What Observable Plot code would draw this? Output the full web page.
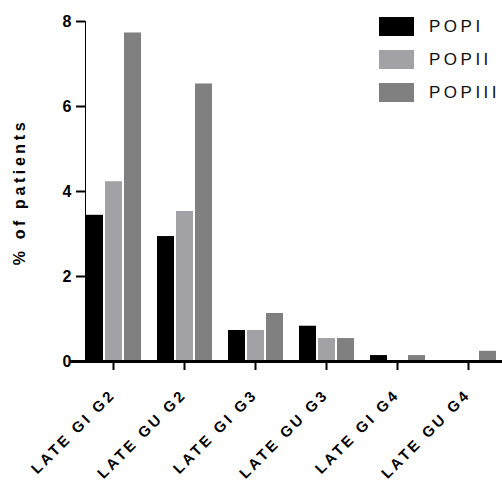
<!DOCTYPE html>
<html>
<head>
<meta charset="utf-8">
<script src="https://cdn.jsdelivr.net/npm/d3@7"></script>
<script src="https://cdn.jsdelivr.net/npm/@observablehq/plot@0.6"></script>
<style>
  html, body { margin: 0; padding: 0; background: #fff; }
  #wrap { position: relative; width: 502px; height: 483px; overflow: hidden; font-family: "Liberation Sans", Arial, sans-serif; }
  #wrap svg { font-family: "Liberation Sans", Arial, sans-serif; overflow: hidden; }
  [aria-label^="y-axis"] text { font-size: 16px; font-weight: bold; fill: #000; }
  [aria-label^="y-axis"] line, [aria-label^="y-axis"] path,
  [aria-label^="fx-axis"] line, [aria-label^="fx-axis"] path { stroke: #000; stroke-width: 2px; }
  [aria-label="text"] text { font-size: 15px; font-weight: bold; letter-spacing: 3px; fill: #000; }
  #ylabel { position: absolute; left: 20px; top: 192px; transform: translate(-50%, -50%) rotate(-90deg); white-space: nowrap; font-size: 16px; font-weight: bold; letter-spacing: 3.6px; color: #000; }
  #legend { position: absolute; left: 379px; top: 17px; }
  .row { display: flex; align-items: center; height: 19px; margin-bottom: 14px; }
  .sw { width: 35px; height: 19px; margin-right: 15px; }
  .lab { font-size: 17px; letter-spacing: 3.5px; color: #111; }
</style>
</head>
<body>
<div id="wrap"></div>
<script>
const categories = ["LATE GI G2", "LATE GU G2", "LATE GI G3", "LATE GU G3", "LATE GI G4", "LATE GU G4"];
const seriesNames = ["POPI", "POPII", "POPIII"];
const popI   = [3.44, 2.94, 0.73, 0.83, 0.14, 0];
const popII  = [4.23, 3.53, 0.73, 0.54, 0, 0];
const popIII = [7.73, 6.53, 1.13, 0.54, 0.14, 0.24];
const seriesColors = ["#000000", "#a2a2a6", "#808080"];
const yTicks = [0, 2, 4, 6, 8];

const seriesValues = [popI, popII, popIII];
const rows = [];
categories.forEach((c, i) => {
  seriesNames.forEach((s, j) => rows.push({cat: c, series: s, value: seriesValues[j][i]}));
});

const chart = Plot.plot({
  width: 502,
  height: 483,
  marginLeft: 78,
  marginRight: 0,
  marginTop: 21,
  marginBottom: 122,
  facet: {data: rows, x: "cat"},
  fx: {domain: categories, paddingInner: 0.213, paddingOuter: 0.084, label: null, tickSize: 9, tickFormat: () => "", axis: "bottom"},
  x: {domain: seriesNames, axis: null, paddingInner: 0.12, paddingOuter: 0},
  y: {domain: [0, 8], ticks: yTicks, tickSize: 9, tickPadding: 5, label: null, line: true, tickFormat: d3.format("d")},
  color: {domain: seriesNames, range: seriesColors},
  marks: [
    Plot.barY(rows, {x: "series", y: "value", fill: "series"}),
    Plot.ruleY([0], {stroke: "#000", strokeWidth: 3, insetLeft: -16, insetRight: -16}),
    Plot.text(rows, {filter: d => d.series === "POPI", text: "cat", frameAnchor: "bottom", rotate: -45, textAnchor: "end", dx: 3, dy: 34})
  ]
});
const wrap = document.getElementById("wrap");
wrap.appendChild(chart);

const yl = document.createElement("div");
yl.id = "ylabel";
yl.textContent = "% of patients";
wrap.appendChild(yl);

const legend = document.createElement("div");
legend.id = "legend";
seriesNames.forEach((s, i) => {
  const r = document.createElement("div");
  r.className = "row";
  const sw = document.createElement("div");
  sw.className = "sw";
  sw.style.background = seriesColors[i];
  const lab = document.createElement("span");
  lab.className = "lab";
  lab.textContent = s;
  r.appendChild(sw); r.appendChild(lab);
  legend.appendChild(r);
});
wrap.appendChild(legend);
</script>
</body>
</html>
